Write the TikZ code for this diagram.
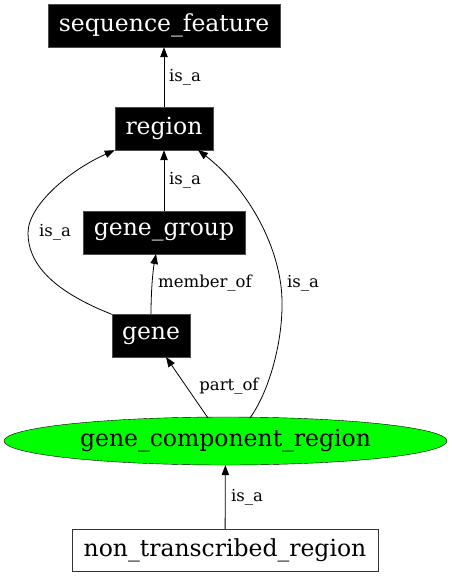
\documentclass[tikz,border=0pt]{standalone}
\usepackage{fontspec}
\setmainfont{DejaVu Serif}
\usetikzlibrary{arrows.meta,shapes.geometric}
\begin{document}
\begin{tikzpicture}[x=1pt,y=-1pt,
  termbox/.style={rectangle,fill=black,draw=black!70,text=white,inner sep=0pt,minimum height=43pt,font=\fontsize{23.5}{28}\selectfont},
  leafbox/.style={rectangle,fill=white,draw=black!80,text=black,inner sep=0pt,minimum height=42pt,font=\fontsize{23.5}{28}\selectfont},
  focus/.style={ellipse,fill={rgb,255:red,0;green,255;blue,0},draw=black,inner sep=0pt,minimum width=443pt,minimum height=48pt,font=\fontsize{23.5}{28}\selectfont},
  rel/.style={draw=black,line width=0.8pt,-{Triangle[length=10pt,width=7.5pt]}},
  lbl/.style={font=\fontsize{16.5}{20}\selectfont,inner sep=0pt}
]
\useasboundingbox (0,0) rectangle (451,576);
\node[termbox,minimum width=232pt] (sf) at (164,25.5) {sequence\_feature};
\node[termbox,minimum width=98pt] (region) at (164,128.5) {region};
\node[termbox,minimum width=162pt] (gg) at (164,232.5) {gene\_group};
\node[termbox,minimum width=78pt] (gene) at (151,336) {gene};
\node[focus] (gcr) at (225.5,441) {gene\_component\_region};
\node[leafbox,minimum width=306pt] (ntr) at (225,550) {non\_transcribed\_region};

\coordinate (gcrA) at (208,418);
\coordinate (gcrB) at (250,418);

\draw[rel] (region) -- (sf);
\draw[rel] (gg) -- (region);
\draw[rel] (gene.north west) .. controls (50,290) and (28,262) .. (28,233) .. controls (28,205) and (70,170) .. (region.south west);
\draw[rel] (gene.north) ++(0,0) .. controls (151,290) and (153,270) .. (156,254);
\draw[rel] (gcrA) -- (166,357);
\draw[rel] (gcrB) .. controls (270,390) and (283,340) .. (282,300) .. controls (281,250) and (250,190) .. (198,150);
\draw[rel] (ntr) -- (gcr);

\node[lbl,anchor=west] (l1) at (169,77) {is\_a};
\node[lbl,anchor=west] (l2) at (169,180) {is\_a};
\node[lbl] (l3) at (55,232) {is\_a};
\node[lbl] (l4) at (205,283) {member\_of};
\node[lbl] (l5) at (303,283) {is\_a};
\node[lbl] (l6) at (229,386) {part\_of};
\node[lbl] (l7) at (247,497) {is\_a};
\end{tikzpicture}
\end{document}
